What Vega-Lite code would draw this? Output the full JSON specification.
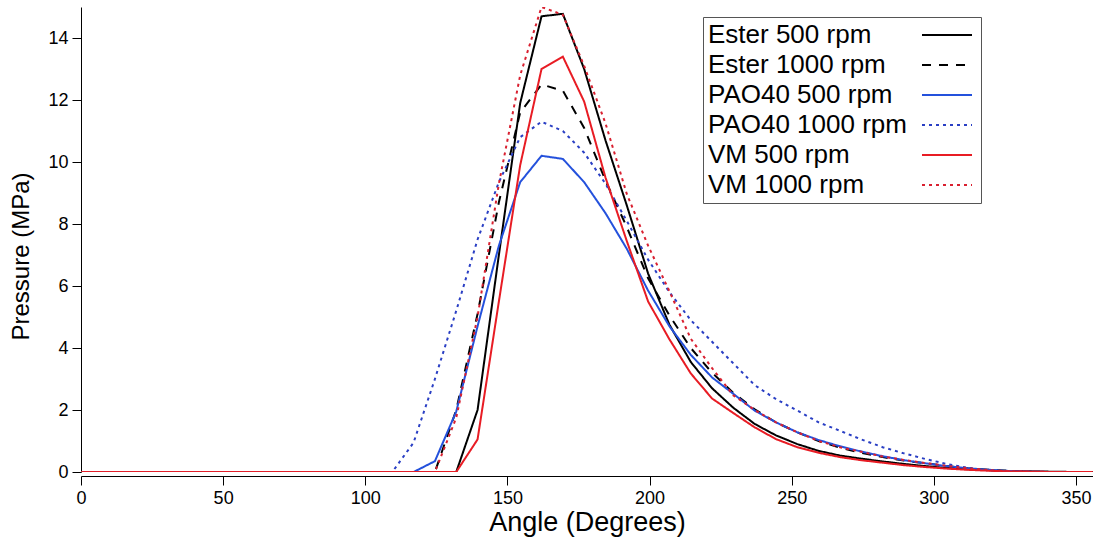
{
  "$schema": "https://vega.github.io/schema/vega-lite/v6.json",
  "width": 1012,
  "height": 465,
  "autosize": {"type": "none"},
  "padding": {"left": 81, "top": 7, "right": 0, "bottom": 67},
  "background": "white",
  "config": {
    "view": {"stroke": null},
    "font": "Liberation Sans",
    "axis": {"grid": false, "domainColor": "black", "tickColor": "black", "labelColor": "black", "titleColor": "black", "labelFont": "Liberation Sans", "titleFont": "Liberation Sans", "titleFontWeight": "normal", "domainWidth": 1, "tickWidth": 1},
    "legend": {"labelFont": "Liberation Sans", "labelColor": "black"}
  },
  "data": {"values": [
    {"angle": 0, "pressure": 0, "series": "Ester 500 rpm"},
    {"angle": 132, "pressure": 0, "series": "Ester 500 rpm"},
    {"angle": 139.5, "pressure": 2.0, "series": "Ester 500 rpm"},
    {"angle": 147, "pressure": 7.0, "series": "Ester 500 rpm"},
    {"angle": 154.5, "pressure": 11.9, "series": "Ester 500 rpm"},
    {"angle": 162, "pressure": 14.7, "series": "Ester 500 rpm"},
    {"angle": 169.5, "pressure": 14.78, "series": "Ester 500 rpm"},
    {"angle": 177, "pressure": 13.0, "series": "Ester 500 rpm"},
    {"angle": 184.5, "pressure": 10.7, "series": "Ester 500 rpm"},
    {"angle": 192, "pressure": 8.6, "series": "Ester 500 rpm"},
    {"angle": 199.5, "pressure": 6.4, "series": "Ester 500 rpm"},
    {"angle": 207, "pressure": 4.75, "series": "Ester 500 rpm"},
    {"angle": 214.5, "pressure": 3.55, "series": "Ester 500 rpm"},
    {"angle": 222, "pressure": 2.7, "series": "Ester 500 rpm"},
    {"angle": 229.5, "pressure": 2.07, "series": "Ester 500 rpm"},
    {"angle": 237, "pressure": 1.55, "series": "Ester 500 rpm"},
    {"angle": 244.5, "pressure": 1.18, "series": "Ester 500 rpm"},
    {"angle": 252, "pressure": 0.9, "series": "Ester 500 rpm"},
    {"angle": 259.5, "pressure": 0.68, "series": "Ester 500 rpm"},
    {"angle": 267, "pressure": 0.53, "series": "Ester 500 rpm"},
    {"angle": 274.5, "pressure": 0.43, "series": "Ester 500 rpm"},
    {"angle": 282, "pressure": 0.34, "series": "Ester 500 rpm"},
    {"angle": 289.5, "pressure": 0.26, "series": "Ester 500 rpm"},
    {"angle": 297, "pressure": 0.19, "series": "Ester 500 rpm"},
    {"angle": 304.5, "pressure": 0.13, "series": "Ester 500 rpm"},
    {"angle": 312, "pressure": 0.09, "series": "Ester 500 rpm"},
    {"angle": 319.5, "pressure": 0.06, "series": "Ester 500 rpm"},
    {"angle": 327, "pressure": 0.03, "series": "Ester 500 rpm"},
    {"angle": 334.5, "pressure": 0.02, "series": "Ester 500 rpm"},
    {"angle": 342, "pressure": 0.01, "series": "Ester 500 rpm"},
    {"angle": 349.5, "pressure": 0, "series": "Ester 500 rpm"},
    {"angle": 357, "pressure": 0, "series": "Ester 500 rpm"},

    {"angle": 0, "pressure": 0, "series": "Ester 1000 rpm"},
    {"angle": 124.5, "pressure": 0, "series": "Ester 1000 rpm"},
    {"angle": 132, "pressure": 2.0, "series": "Ester 1000 rpm"},
    {"angle": 139.5, "pressure": 5.1, "series": "Ester 1000 rpm"},
    {"angle": 147, "pressure": 8.7, "series": "Ester 1000 rpm"},
    {"angle": 154.5, "pressure": 11.6, "series": "Ester 1000 rpm"},
    {"angle": 162, "pressure": 12.5, "series": "Ester 1000 rpm"},
    {"angle": 169.5, "pressure": 12.3, "series": "Ester 1000 rpm"},
    {"angle": 177, "pressure": 11.1, "series": "Ester 1000 rpm"},
    {"angle": 184.5, "pressure": 9.4, "series": "Ester 1000 rpm"},
    {"angle": 192, "pressure": 7.9, "series": "Ester 1000 rpm"},
    {"angle": 199.5, "pressure": 6.25, "series": "Ester 1000 rpm"},
    {"angle": 207, "pressure": 5.05, "series": "Ester 1000 rpm"},
    {"angle": 214.5, "pressure": 4.0, "series": "Ester 1000 rpm"},
    {"angle": 222, "pressure": 3.2, "series": "Ester 1000 rpm"},
    {"angle": 229.5, "pressure": 2.55, "series": "Ester 1000 rpm"},
    {"angle": 237, "pressure": 2.02, "series": "Ester 1000 rpm"},
    {"angle": 244.5, "pressure": 1.6, "series": "Ester 1000 rpm"},
    {"angle": 252, "pressure": 1.28, "series": "Ester 1000 rpm"},
    {"angle": 259.5, "pressure": 1.0, "series": "Ester 1000 rpm"},
    {"angle": 267, "pressure": 0.78, "series": "Ester 1000 rpm"},
    {"angle": 274.5, "pressure": 0.62, "series": "Ester 1000 rpm"},
    {"angle": 282, "pressure": 0.48, "series": "Ester 1000 rpm"},
    {"angle": 289.5, "pressure": 0.37, "series": "Ester 1000 rpm"},
    {"angle": 297, "pressure": 0.28, "series": "Ester 1000 rpm"},
    {"angle": 304.5, "pressure": 0.19, "series": "Ester 1000 rpm"},
    {"angle": 312, "pressure": 0.12, "series": "Ester 1000 rpm"},
    {"angle": 319.5, "pressure": 0.07, "series": "Ester 1000 rpm"},
    {"angle": 327, "pressure": 0.03, "series": "Ester 1000 rpm"},
    {"angle": 334.5, "pressure": 0.01, "series": "Ester 1000 rpm"},
    {"angle": 342, "pressure": 0, "series": "Ester 1000 rpm"},
    {"angle": 357, "pressure": 0, "series": "Ester 1000 rpm"},

    {"angle": 0, "pressure": 0, "series": "PAO40 500 rpm"},
    {"angle": 117, "pressure": 0, "series": "PAO40 500 rpm"},
    {"angle": 124.5, "pressure": 0.35, "series": "PAO40 500 rpm"},
    {"angle": 132, "pressure": 1.95, "series": "PAO40 500 rpm"},
    {"angle": 139.5, "pressure": 4.7, "series": "PAO40 500 rpm"},
    {"angle": 147, "pressure": 7.3, "series": "PAO40 500 rpm"},
    {"angle": 154.5, "pressure": 9.35, "series": "PAO40 500 rpm"},
    {"angle": 162, "pressure": 10.2, "series": "PAO40 500 rpm"},
    {"angle": 169.5, "pressure": 10.1, "series": "PAO40 500 rpm"},
    {"angle": 177, "pressure": 9.35, "series": "PAO40 500 rpm"},
    {"angle": 184.5, "pressure": 8.35, "series": "PAO40 500 rpm"},
    {"angle": 192, "pressure": 7.2, "series": "PAO40 500 rpm"},
    {"angle": 199.5, "pressure": 5.85, "series": "PAO40 500 rpm"},
    {"angle": 207, "pressure": 4.7, "series": "PAO40 500 rpm"},
    {"angle": 214.5, "pressure": 3.78, "series": "PAO40 500 rpm"},
    {"angle": 222, "pressure": 3.05, "series": "PAO40 500 rpm"},
    {"angle": 229.5, "pressure": 2.52, "series": "PAO40 500 rpm"},
    {"angle": 237, "pressure": 1.98, "series": "PAO40 500 rpm"},
    {"angle": 244.5, "pressure": 1.6, "series": "PAO40 500 rpm"},
    {"angle": 252, "pressure": 1.28, "series": "PAO40 500 rpm"},
    {"angle": 259.5, "pressure": 1.03, "series": "PAO40 500 rpm"},
    {"angle": 267, "pressure": 0.83, "series": "PAO40 500 rpm"},
    {"angle": 274.5, "pressure": 0.66, "series": "PAO40 500 rpm"},
    {"angle": 282, "pressure": 0.51, "series": "PAO40 500 rpm"},
    {"angle": 289.5, "pressure": 0.38, "series": "PAO40 500 rpm"},
    {"angle": 297, "pressure": 0.28, "series": "PAO40 500 rpm"},
    {"angle": 304.5, "pressure": 0.19, "series": "PAO40 500 rpm"},
    {"angle": 312, "pressure": 0.12, "series": "PAO40 500 rpm"},
    {"angle": 319.5, "pressure": 0.07, "series": "PAO40 500 rpm"},
    {"angle": 327, "pressure": 0.03, "series": "PAO40 500 rpm"},
    {"angle": 334.5, "pressure": 0.01, "series": "PAO40 500 rpm"},
    {"angle": 342, "pressure": 0, "series": "PAO40 500 rpm"},

    {"angle": 0, "pressure": 0, "series": "PAO40 1000 rpm"},
    {"angle": 109.5, "pressure": 0, "series": "PAO40 1000 rpm"},
    {"angle": 117, "pressure": 0.95, "series": "PAO40 1000 rpm"},
    {"angle": 124.5, "pressure": 3.0, "series": "PAO40 1000 rpm"},
    {"angle": 132, "pressure": 5.2, "series": "PAO40 1000 rpm"},
    {"angle": 139.5, "pressure": 7.5, "series": "PAO40 1000 rpm"},
    {"angle": 147, "pressure": 9.35, "series": "PAO40 1000 rpm"},
    {"angle": 154.5, "pressure": 10.8, "series": "PAO40 1000 rpm"},
    {"angle": 162, "pressure": 11.3, "series": "PAO40 1000 rpm"},
    {"angle": 169.5, "pressure": 11.0, "series": "PAO40 1000 rpm"},
    {"angle": 177, "pressure": 10.3, "series": "PAO40 1000 rpm"},
    {"angle": 184.5, "pressure": 9.3, "series": "PAO40 1000 rpm"},
    {"angle": 192, "pressure": 8.1, "series": "PAO40 1000 rpm"},
    {"angle": 199.5, "pressure": 6.85, "series": "PAO40 1000 rpm"},
    {"angle": 207, "pressure": 5.8, "series": "PAO40 1000 rpm"},
    {"angle": 214.5, "pressure": 4.9, "series": "PAO40 1000 rpm"},
    {"angle": 222, "pressure": 4.2, "series": "PAO40 1000 rpm"},
    {"angle": 229.5, "pressure": 3.5, "series": "PAO40 1000 rpm"},
    {"angle": 237, "pressure": 2.8, "series": "PAO40 1000 rpm"},
    {"angle": 244.5, "pressure": 2.35, "series": "PAO40 1000 rpm"},
    {"angle": 252, "pressure": 1.98, "series": "PAO40 1000 rpm"},
    {"angle": 259.5, "pressure": 1.6, "series": "PAO40 1000 rpm"},
    {"angle": 267, "pressure": 1.33, "series": "PAO40 1000 rpm"},
    {"angle": 274.5, "pressure": 1.05, "series": "PAO40 1000 rpm"},
    {"angle": 282, "pressure": 0.8, "series": "PAO40 1000 rpm"},
    {"angle": 289.5, "pressure": 0.6, "series": "PAO40 1000 rpm"},
    {"angle": 297, "pressure": 0.42, "series": "PAO40 1000 rpm"},
    {"angle": 304.5, "pressure": 0.26, "series": "PAO40 1000 rpm"},
    {"angle": 312, "pressure": 0.13, "series": "PAO40 1000 rpm"},
    {"angle": 319.5, "pressure": 0.05, "series": "PAO40 1000 rpm"},
    {"angle": 327, "pressure": 0.01, "series": "PAO40 1000 rpm"},
    {"angle": 334.5, "pressure": 0, "series": "PAO40 1000 rpm"},

    {"angle": 0, "pressure": 0, "series": "VM 500 rpm"},
    {"angle": 132, "pressure": 0, "series": "VM 500 rpm"},
    {"angle": 139.5, "pressure": 1.05, "series": "VM 500 rpm"},
    {"angle": 147, "pressure": 5.5, "series": "VM 500 rpm"},
    {"angle": 154.5, "pressure": 9.9, "series": "VM 500 rpm"},
    {"angle": 162, "pressure": 13.0, "series": "VM 500 rpm"},
    {"angle": 169.5, "pressure": 13.4, "series": "VM 500 rpm"},
    {"angle": 177, "pressure": 11.95, "series": "VM 500 rpm"},
    {"angle": 184.5, "pressure": 9.5, "series": "VM 500 rpm"},
    {"angle": 192, "pressure": 7.45, "series": "VM 500 rpm"},
    {"angle": 199.5, "pressure": 5.5, "series": "VM 500 rpm"},
    {"angle": 207, "pressure": 4.28, "series": "VM 500 rpm"},
    {"angle": 214.5, "pressure": 3.18, "series": "VM 500 rpm"},
    {"angle": 222, "pressure": 2.37, "series": "VM 500 rpm"},
    {"angle": 229.5, "pressure": 1.9, "series": "VM 500 rpm"},
    {"angle": 237, "pressure": 1.44, "series": "VM 500 rpm"},
    {"angle": 244.5, "pressure": 1.06, "series": "VM 500 rpm"},
    {"angle": 252, "pressure": 0.8, "series": "VM 500 rpm"},
    {"angle": 259.5, "pressure": 0.62, "series": "VM 500 rpm"},
    {"angle": 267, "pressure": 0.48, "series": "VM 500 rpm"},
    {"angle": 274.5, "pressure": 0.38, "series": "VM 500 rpm"},
    {"angle": 282, "pressure": 0.3, "series": "VM 500 rpm"},
    {"angle": 289.5, "pressure": 0.22, "series": "VM 500 rpm"},
    {"angle": 297, "pressure": 0.16, "series": "VM 500 rpm"},
    {"angle": 304.5, "pressure": 0.11, "series": "VM 500 rpm"},
    {"angle": 312, "pressure": 0.07, "series": "VM 500 rpm"},
    {"angle": 319.5, "pressure": 0.04, "series": "VM 500 rpm"},
    {"angle": 327, "pressure": 0.02, "series": "VM 500 rpm"},
    {"angle": 334.5, "pressure": 0.01, "series": "VM 500 rpm"},
    {"angle": 342, "pressure": 0, "series": "VM 500 rpm"},
    {"angle": 357, "pressure": 0, "series": "VM 500 rpm"},

    {"angle": 0, "pressure": 0, "series": "VM 1000 rpm"},
    {"angle": 124.5, "pressure": 0, "series": "VM 1000 rpm"},
    {"angle": 132, "pressure": 1.75, "series": "VM 1000 rpm"},
    {"angle": 139.5, "pressure": 5.0, "series": "VM 1000 rpm"},
    {"angle": 147, "pressure": 9.3, "series": "VM 1000 rpm"},
    {"angle": 154.5, "pressure": 12.8, "series": "VM 1000 rpm"},
    {"angle": 162, "pressure": 15.0, "series": "VM 1000 rpm"},
    {"angle": 169.5, "pressure": 14.75, "series": "VM 1000 rpm"},
    {"angle": 177, "pressure": 13.1, "series": "VM 1000 rpm"},
    {"angle": 184.5, "pressure": 11.25, "series": "VM 1000 rpm"},
    {"angle": 192, "pressure": 8.97, "series": "VM 1000 rpm"},
    {"angle": 199.5, "pressure": 7.3, "series": "VM 1000 rpm"},
    {"angle": 207, "pressure": 5.83, "series": "VM 1000 rpm"},
    {"angle": 214.5, "pressure": 4.3, "series": "VM 1000 rpm"},
    {"angle": 222, "pressure": 3.35, "series": "VM 1000 rpm"},
    {"angle": 229.5, "pressure": 2.47, "series": "VM 1000 rpm"},
    {"angle": 237, "pressure": 2.0, "series": "VM 1000 rpm"},
    {"angle": 244.5, "pressure": 1.6, "series": "VM 1000 rpm"},
    {"angle": 252, "pressure": 1.28, "series": "VM 1000 rpm"},
    {"angle": 259.5, "pressure": 1.0, "series": "VM 1000 rpm"},
    {"angle": 267, "pressure": 0.8, "series": "VM 1000 rpm"},
    {"angle": 274.5, "pressure": 0.65, "series": "VM 1000 rpm"},
    {"angle": 282, "pressure": 0.5, "series": "VM 1000 rpm"},
    {"angle": 289.5, "pressure": 0.39, "series": "VM 1000 rpm"},
    {"angle": 297, "pressure": 0.29, "series": "VM 1000 rpm"},
    {"angle": 304.5, "pressure": 0.2, "series": "VM 1000 rpm"},
    {"angle": 312, "pressure": 0.12, "series": "VM 1000 rpm"},
    {"angle": 319.5, "pressure": 0.06, "series": "VM 1000 rpm"},
    {"angle": 327, "pressure": 0.02, "series": "VM 1000 rpm"},
    {"angle": 334.5, "pressure": 0.01, "series": "VM 1000 rpm"},
    {"angle": 342, "pressure": 0, "series": "VM 1000 rpm"},
    {"angle": 349.5, "pressure": 0, "series": "VM 1000 rpm"}
  ]},
  "mark": {"type": "line", "strokeWidth": 2, "clip": true, "strokeCap": "butt"},
  "encoding": {
    "x": {
      "field": "angle", "type": "quantitative",
      "scale": {"domain": [0, 356], "nice": false, "zero": false},
      "axis": {"title": "Angle (Degrees)", "values": [0, 50, 100, 150, 200, 250, 300, 350], "labelFontSize": 18, "titleFontSize": 27, "tickSize": 9, "labelPadding": 4, "titlePadding": 2, "offset": 4, "labelFlush": false}
    },
    "y": {
      "field": "pressure", "type": "quantitative",
      "scale": {"domain": [0, 15], "nice": false},
      "axis": {"title": "Pressure (MPa)", "values": [0, 2, 4, 6, 8, 10, 12, 14], "labelFontSize": 18, "titleFontSize": 24, "tickSize": 9, "labelPadding": 4, "titlePadding": 14, "titleY": 249}
    },
    "color": {
      "field": "series", "type": "nominal",
      "scale": {
        "domain": ["Ester 500 rpm", "Ester 1000 rpm", "PAO40 500 rpm", "PAO40 1000 rpm", "VM 500 rpm", "VM 1000 rpm"],
        "range": ["#000000", "#000000", "#2451dc", "#2a3fc4", "#e81c24", "#d92030"]
      },
      "legend": {"orient": "none", "legendX": 622, "legendY": 10, "title": null, "symbolType": "M-5,0H5", "symbolSize": 100, "symbolStrokeWidth": 2, "symbolOffset": 226, "labelFontSize": 26, "labelOffset": -252, "labelLimit": 0, "fillColor": "white", "strokeColor": "#555555", "padding": 5, "rowPadding": 4}
    },
    "strokeDash": {
      "field": "series", "type": "nominal",
      "scale": {
        "domain": ["Ester 500 rpm", "Ester 1000 rpm", "PAO40 500 rpm", "PAO40 1000 rpm", "VM 500 rpm", "VM 1000 rpm"],
        "range": [[1, 0], [9, 8], [1, 0], [3, 4], [1, 0], [3, 4]]
      },
      "legend": {"orient": "none", "legendX": 622, "legendY": 10, "title": null, "symbolType": "M-5,0H5", "symbolSize": 100, "symbolStrokeWidth": 2, "symbolOffset": 226, "labelFontSize": 26, "labelOffset": -252, "labelLimit": 0, "fillColor": "white", "strokeColor": "#555555", "padding": 5, "rowPadding": 4}
    }
  }
}
